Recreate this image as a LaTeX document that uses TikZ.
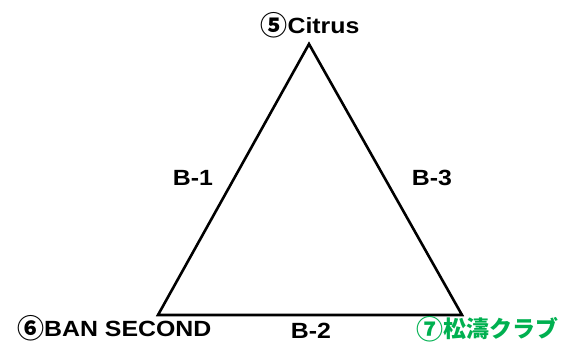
\documentclass[tikz,border=0pt]{standalone}
\usepackage{fontspec}
\setmainfont{Liberation Sans}[FakeStretch=1.13]
\newfontfamily\jp{Noto Sans CJK JP}
\definecolor{xlgreen}{RGB}{0,176,80}
\newcommand{\cj}[1]{{\jp\bfseries\fontsize{23}{25}\selectfont #1}}
\newcommand{\cn}[1]{{\jp\bfseries\fontsize{27}{29}\selectfont\raisebox{-2.5pt}{#1}}}
\begin{document}
\begin{tikzpicture}[x=1pt,y=-1pt,
  lbl/.style={font=\fontsize{22}{24}\selectfont\bfseries, inner sep=0pt, anchor=base},
  edge/.style={line width=2.6pt, line join=miter}]
\useasboundingbox (0,0) rectangle (563,348);
\coordinate (A) at (309,44);
\coordinate (B) at (158,315);
\coordinate (C) at (462,315);
\draw[edge] (A) -- (B) -- (C) -- cycle;
\node[lbl] (top) at (310,33) {\cn{⑤}Citrus};
\node[lbl, anchor=base west] (left) at (17,336) {\cn{⑥}BAN SECOND};
\node[lbl, anchor=base east, text=xlgreen] (right) at (559,337) {\cn{⑦}\cj{松濤クラブ}};
\node[lbl] (b1) at (193,185) {B-1};
\node[lbl] (b3) at (432,185) {B-3};
\node[lbl] (b2) at (311,338) {B-2};
\end{tikzpicture}
\end{document}
